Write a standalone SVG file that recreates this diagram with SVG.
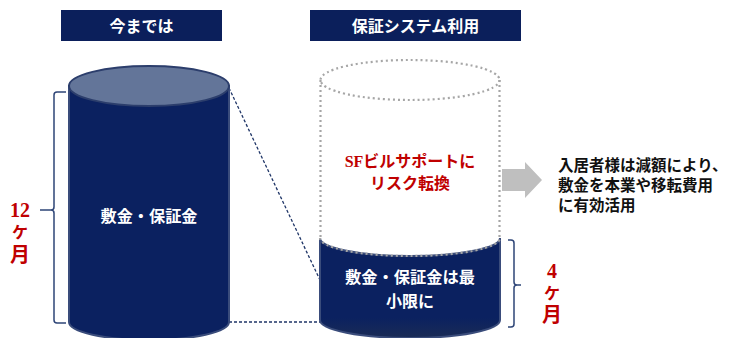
<svg xmlns="http://www.w3.org/2000/svg" width="732" height="338" viewBox="0 0 732 338">
<style>
.hdr{fill:#0B1F5B}
.ht{font-family:"Liberation Serif","Noto Sans CJK JP",serif;font-weight:bold;font-size:16px;fill:#fff;text-anchor:middle}
.wt{font-family:"Liberation Serif","Noto Sans CJK JP",serif;font-weight:bold;font-size:16px;fill:#fff;text-anchor:middle}
.rt{font-family:"Liberation Serif","Noto Sans CJK JP",serif;font-weight:bold;font-size:16px;fill:#C00000;text-anchor:middle}
.bt{font-family:"Liberation Serif","Noto Sans CJK JP",serif;font-weight:bold;font-size:15.5px;fill:#111}
.mo{font-family:"Liberation Serif","Noto Sans CJK JP",serif;font-weight:bold;font-size:20px;fill:#C00000;text-anchor:middle}
.sm{font-size:16px}
.navy{fill:#0B2160;stroke:#3A4C7B;stroke-width:2}
.dot{fill:none;stroke:#A6A6A6;stroke-width:2.2;stroke-dasharray:2 3}
.dash{fill:none;stroke:#1F3567;stroke-width:1.3;stroke-dasharray:3 2}
.br{fill:none;stroke:#2E4577;stroke-width:1.5}
</style>
<defs>
<linearGradient id="shade" x1="0" y1="0" x2="0" y2="1">
<stop offset="0" stop-color="#0B2160"/>
<stop offset="0.8" stop-color="#0B2160"/>
<stop offset="1" stop-color="#1A2B55"/>
</linearGradient>
</defs>

<g id="header-left">
<rect class="hdr" x="61" y="10" width="161" height="31"/>
<text class="ht" x="141.5" y="32">今までは</text>
</g>
<g id="header-right">
<rect class="hdr" x="310" y="10" width="211" height="31"/>
<text class="ht" x="415.5" y="32">保証システム利用</text>
</g>

<g id="connectors">
<line class="dash" x1="229" y1="88" x2="320" y2="280"/>
<line class="dash" x1="229" y1="322" x2="320" y2="322"/>
</g>

<g id="cylinder-left">
<path class="navy" d="M69,86 L69,322 A80,18 0 0 0 229,322 L229,86 Z"/>
<ellipse cx="149" cy="86" rx="80" ry="20" fill="#637599" stroke="#2C3E6C" stroke-width="2"/>
<text class="wt" x="149" y="222" textLength="97" lengthAdjust="spacingAndGlyphs">敷金・保証金</text>
</g>

<g id="bracket-left">
<path class="br" d="M66,92 L57,92 Q54,92 54,95 L54,207 Q54,210 51,210 L40,210 M51,210 Q54,210 54,213 L54,320 Q54,323 57,323 L66,323"/>
<text class="mo" x="20" y="217">12</text>
<text class="mo sm" x="20" y="238">ケ</text>
<text class="mo" x="20" y="262">月</text>
</g>

<g id="cylinder-right">
<ellipse class="dot" cx="410" cy="80" rx="89.5" ry="20"/>
<line class="dot" x1="320.5" y1="80" x2="320.5" y2="238"/>
<line class="dot" x1="499.5" y1="80" x2="499.5" y2="238"/>
<path d="M320,238 A90,18 0 0 0 500,238 L500,320 A90,18 0 0 1 320,320 Z" fill="url(#shade)" stroke="#3A4C7B" stroke-width="2"/>
<path class="dot" d="M320,238 A90,18 0 0 0 500,238"/>
<text class="rt" x="410" y="167">SFビルサポートに</text>
<text class="rt" x="410" y="189">リスク転換</text>
<text class="wt" x="410" y="283" textLength="130" lengthAdjust="spacingAndGlyphs">敷金・保証金は最</text>
<text class="wt" x="410" y="307">小限に</text>
</g>

<g id="arrow">
<polygon points="502,169 525,169 525,162 542,180 525,198 525,191 502,191" fill="#BFBFBF"/>
</g>

<g id="note">
<text class="bt" x="558" y="171">入居者様は減額により、</text>
<text class="bt" x="558" y="191">敷金を本業や移転費用</text>
<text class="bt" x="558" y="211">に有効活用</text>
</g>

<g id="bracket-right">
<path class="br" d="M508,240 L511,240 Q514,240 514,243 L514,282 Q514,285 517,285 L521,285 M517,285 Q514,285 514,288 L514,324 Q514,327 511,327 L508,327"/>
<text class="mo" x="552" y="278">4</text>
<text class="mo sm" x="552" y="299">ケ</text>
<text class="mo" x="552" y="322">月</text>
</g>
</svg>
